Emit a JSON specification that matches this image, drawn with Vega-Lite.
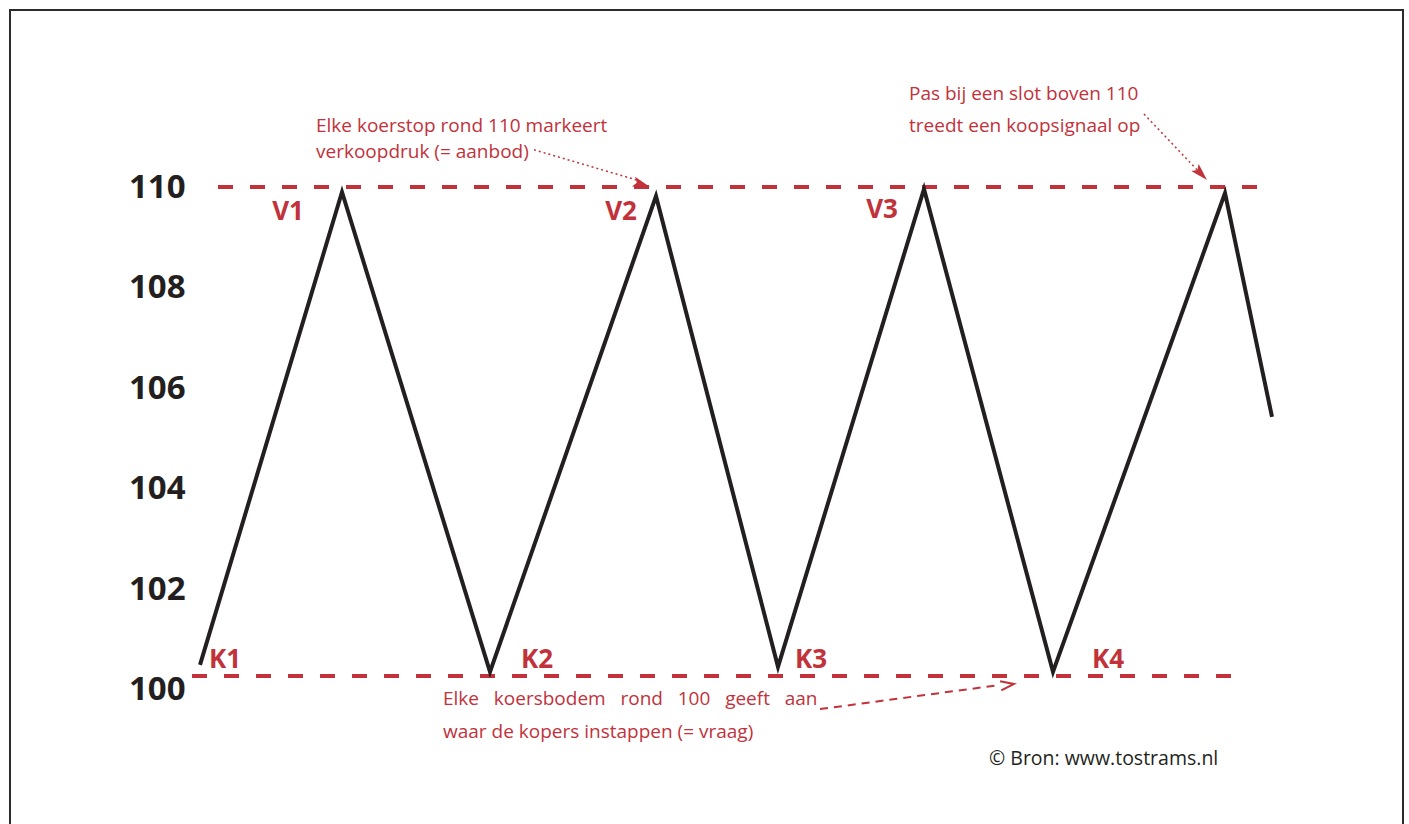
{
  "$schema": "https://vega.github.io/schema/vega-lite/v6.json",
  "autosize": "none",
  "width": 1393,
  "height": 824,
  "padding": {"left": 10, "top": 10, "right": 6, "bottom": -10},
  "background": "white",
  "config": {"view": {"stroke": "#2b2b2b", "strokeWidth": 2}},
  "datasets": {
    "zigzag": [
      {"t": 20.0, "v": 100.50},
      {"t": 34.2, "v": 109.90},
      {"t": 49.0, "v": 100.36},
      {"t": 65.6, "v": 109.82},
      {"t": 77.8, "v": 100.46},
      {"t": 92.4, "v": 109.96},
      {"t": 105.3, "v": 100.36},
      {"t": 122.5, "v": 109.88},
      {"t": 127.2, "v": 105.43}
    ],
    "levels": [
      {"t": 21.8, "t2": 125.7, "v": 110.0},
      {"t": 19.2, "t2": 123.1, "v": 100.278}
    ],
    "points": [
      {"t": 28.8, "v": 109.50, "label": "V1"},
      {"t": 62.1, "v": 109.50, "label": "V2"},
      {"t": 88.2, "v": 109.54, "label": "V3"},
      {"t": 22.5, "v": 100.60, "label": "K1"},
      {"t": 53.7, "v": 100.60, "label": "K2"},
      {"t": 81.1, "v": 100.60, "label": "K3"},
      {"t": 110.8, "v": 100.60, "label": "K4"}
    ],
    "notes": [
      {"t": 31.6, "v": 111.213, "text": "Elke koerstop rond 110 markeert"},
      {"t": 31.6, "v": 110.696, "text": "verkoopdruk (= aanbod)"},
      {"t": 90.9, "v": 111.849, "text": "Pas bij een slot boven 110"},
      {"t": 90.9, "v": 111.213, "text": "treedt een koopsignaal op"},
      {"t": 44.3, "v": 99.82, "text": "Elke \u00a0\u00a0koersbodem \u00a0\u00a0rond \u00a0\u00a0100 \u00a0\u00a0geeft \u00a0\u00a0aan"},
      {"t": 44.3, "v": 99.165, "text": "waar de kopers instappen (= vraag)"}
    ],
    "source": [
      {"t": 98.9, "v": 98.63, "text": "© Bron: www.tostrams.nl"}
    ],
    "dotted": [
      {"t": 53.4, "v": 110.74, "t2": 64.0, "v2": 110.12},
      {"t": 114.4, "v": 111.45, "t2": 120.0, "v2": 110.28}
    ],
    "dashed": [
      {"t": 82.0, "v": 99.62, "t2": 100.0, "v2": 100.10}
    ],
    "head1": [{"t": 65.0, "v": 110.0}],
    "head2": [{"t": 120.7, "v": 110.14}],
    "head3": [{"t": 101.4, "v": 100.12}]
  },
  "encoding": {
    "x": {"field": "t", "type": "quantitative", "scale": {"domain": [1.0, 140.3], "nice": false, "zero": false}, "axis": null},
    "y": {"field": "v", "type": "quantitative", "scale": {"domain": [97.137, 113.519], "nice": false, "zero": false},
      "axis": {"values": [100, 102, 104, 106, 108, 110], "domain": false, "ticks": false, "tickSize": 0, "grid": false,
        "labelPadding": 0, "offset": -175, "title": null, "labelFont": "Open Sans", "labelFontWeight": "bold",
        "labelFontSize": 33, "labelColor": "#231f20", "labelOverlap": false, "labelFlush": false}}
  },
  "layer": [
    {
      "data": {"name": "levels"},
      "mark": {"type": "rule", "color": "#c1323b", "strokeWidth": 4, "strokeDash": [15, 17]},
      "encoding": {"x2": {"field": "t2"}}
    },
    {
      "data": {"name": "zigzag"},
      "mark": {"type": "line", "color": "#231f20", "strokeWidth": 4, "strokeJoin": "miter", "strokeMiterLimit": 10}
    },
    {
      "data": {"name": "points"},
      "mark": {"type": "text", "color": "#c1323b", "font": "Open Sans", "fontWeight": "bold", "fontSize": 26, "align": "center", "baseline": "middle"},
      "encoding": {"text": {"field": "label"}}
    },
    {
      "data": {"name": "notes"},
      "mark": {"type": "text", "color": "#c1323b", "font": "Open Sans", "fontSize": 19, "align": "left", "baseline": "middle"},
      "encoding": {"text": {"field": "text"}}
    },
    {
      "data": {"name": "source"},
      "mark": {"type": "text", "color": "#231f20", "font": "Open Sans", "fontSize": 19.5, "align": "left", "baseline": "middle"},
      "encoding": {"text": {"field": "text"}}
    },
    {
      "data": {"name": "dotted"},
      "mark": {"type": "rule", "color": "#c1323b", "strokeWidth": 1.5, "strokeDash": [2, 3]},
      "encoding": {"x2": {"field": "t2"}, "y2": {"field": "v2"}}
    },
    {
      "data": {"name": "dashed"},
      "mark": {"type": "rule", "color": "#c1323b", "strokeWidth": 2, "strokeDash": [8, 6]},
      "encoding": {"x2": {"field": "t2"}, "y2": {"field": "v2"}}
    },
    {
      "data": {"name": "head1"},
      "mark": {"type": "point", "shape": "M0,0L-2,-0.6L-1.6,0L-2,0.6Z", "filled": true, "color": "#c1323b", "opacity": 1, "size": 300, "angle": 18}
    },
    {
      "data": {"name": "head2"},
      "mark": {"type": "point", "shape": "M0,0L-2,-0.6L-1.6,0L-2,0.6Z", "filled": true, "color": "#c1323b", "opacity": 1, "size": 300, "angle": 46}
    },
    {
      "data": {"name": "head3"},
      "mark": {"type": "point", "shape": "M-2,-0.7L0,0L-2,0.7", "filled": false, "color": "#c1323b", "opacity": 1, "strokeWidth": 2, "size": 180, "angle": -8}
    }
  ]
}
